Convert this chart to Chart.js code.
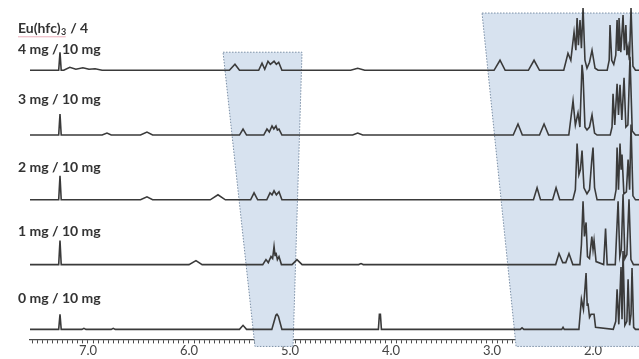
<!DOCTYPE html>
<html><head><meta charset="utf-8">
<script src="https://cdn.jsdelivr.net/npm/chart.js@4"></script>
<style>html,body{margin:0;padding:0;background:#fff;}canvas{display:block;}</style>
</head><body>
<canvas id="c" width="639" height="359"></canvas>
<script>
// ---- data ----
const sampleLabels = ['0 mg / 10 mg','1 mg / 10 mg','2 mg / 10 mg','3 mg / 10 mg','4 mg / 10 mg'];
const titleMain = 'Eu(hfc)';
const titleSub = '3';
const titleRest = ' / 4';
const tickValues = [7, 6, 5, 4, 3, 2];
const tickLabels = ['7.0', '6.0', '5.0', '4.0', '3.0', '2.0'];

// [ppm, intensity] pairs, spectrum 0 mg ... 4 mg
const spec0 = [[7.574,0],[7.29,0],[7.277,15],[7.265,0],[7.06,0],[7.04,1],[7.02,0],[6.77,0],[6.75,1],[6.73,0],
[5.50,0],[5.465,4],[5.43,0],[5.18,0],[5.14,14],[5.129,15],[5.115,13],[5.08,0],
[4.125,0],[4.115,15],[4.105,15],[4.095,0],
[2.72,0],[2.703,1.5],[2.685,0],[2.31,0],[2.297,2],[2.285,0],
[2.14,0],[2.115,30],[2.095,20],[2.069,56],[2.058,24],[2.050,26],[2.035,12],[2.02,15],[1.99,15],[1.975,2],
[1.80,0],[1.775,8],[1.762,40],[1.745,5],[1.723,62],[1.713,10],[1.703,78],[1.685,4],[1.665,8],[1.653,50],[1.638,4],[1.624,15],[1.614,61],[1.598,2],[1.58,0],[1.545,0]];
const spec1 = [[7.574,0],[7.29,0],[7.277,24],[7.265,0],
[6.00,0],[5.931,4],[5.87,0],
[5.27,0],[5.238,5],[5.215,2],[5.188,8],[5.172,6],[5.158,18],[5.148,9],[5.139,12],[5.125,5],[5.109,8],[5.085,0],
[4.98,0],[4.931,5],[4.88,0],[4.32,0],[4.297,1],[4.275,0],
[2.37,0],[2.337,11],[2.30,2],[2.27,2],[2.238,11],[2.20,0],
[2.13,0],[2.115,20],[2.099,63],[2.085,28],[2.069,42],[2.055,8],[2.035,6],[2.012,28],[2.0,15],[1.99,24],[1.97,3],
[1.895,0],[1.876,36],[1.860,0],
[1.78,0],[1.752,63],[1.735,8],[1.72,15],[1.703,70],[1.685,6],[1.665,10],[1.644,65],[1.625,5],[1.60,0],[1.545,0]];
const spec2 = [[7.574,0],[7.29,0],[7.277,24],[7.265,0],
[6.48,0],[6.416,3],[6.36,0],[5.79,0],[5.713,5],[5.64,0],
[5.39,0],[5.356,7],[5.32,0],[5.23,0],[5.198,7],[5.178,5],[5.158,9],[5.135,5],[5.109,8],[5.08,0],
[2.59,0],[2.554,12],[2.52,0],[2.40,0],[2.366,12],[2.33,0],
[2.20,0],[2.175,10],[2.158,56],[2.14,25],[2.125,30],[2.109,49],[2.09,12],[2.06,6],[2.035,10],[2.012,40],[2.0,52],[1.985,12],[1.96,0],
[1.79,0],[1.772,10],[1.762,52],[1.748,10],[1.733,56],[1.722,30],[1.713,45],[1.695,6],[1.67,8],[1.653,40],[1.638,10],[1.624,75],[1.605,4],[1.58,0],[1.545,0]];
const spec3 = [[7.574,0],[7.29,0],[7.277,21],[7.265,0],
[6.86,0],[6.812,2],[6.77,0],[6.48,0],[6.416,3],[6.36,0],
[5.50,0],[5.465,6],[5.43,0],
[5.26,0],[5.228,6],[5.205,3],[5.178,9],[5.16,6],[5.139,9],[5.125,5],[5.109,6],[5.08,0],
[4.38,0],[4.33,2],[4.28,0],
[2.79,0],[2.743,11],[2.70,0],[2.53,0],[2.485,11],[2.44,0],
[2.24,0],[2.198,34],[2.175,10],[2.149,22],[2.13,8],[2.109,70],[2.099,60],[2.08,8],[2.06,5],[2.035,8],[2.010,20],[1.985,2],[1.96,0],
[1.83,0],[1.812,8],[1.802,41],[1.785,10],[1.762,51],[1.748,20],[1.733,50],[1.715,15],[1.693,57],[1.675,8],[1.655,10],[1.634,78],[1.612,4],[1.58,0],[1.545,0]];
const spec4 = [[7.574,0],[7.29,0],[7.277,18],[7.265,0],[7.24,0],[7.18,3],[7.12,1],[7.05,2.5],[6.99,1],[6.93,1.5],[6.86,0],
[5.60,0],[5.545,6],[5.50,0],
[5.31,0],[5.277,7],[5.25,1],[5.218,9],[5.195,6],[5.158,9],[5.135,6],[5.112,8],[5.08,0],
[4.40,0],[4.33,2],[4.26,0],
[2.98,0],[2.921,10],[2.87,0],[2.64,0],[2.584,10],[2.53,0],
[2.29,0],[2.248,17],[2.22,10],[2.188,38],[2.17,20],[2.158,52],[2.145,25],[2.129,50],[2.115,22],[2.099,62],[2.08,10],[2.06,2],[2.035,8],[2.010,20],[1.98,2],[1.95,0],
[1.86,0],[1.84,10],[1.832,45],[1.815,10],[1.795,6],[1.775,15],[1.762,50],[1.752,20],[1.743,52],[1.725,18],[1.703,55],[1.69,20],[1.675,45],[1.665,15],[1.653,23],[1.64,10],[1.624,62],[1.605,4],[1.58,0],[1.545,0]];
const spectra = [spec0, spec1, spec2, spec3, spec4];

// ---- chart ----
const STACK = 64.5;
const datasets = spectra.map((s, i) => ({
  label: sampleLabels[i],
  data: s.map(p => ({ x: p[0], y: p[1] + i * STACK })),
  borderColor: '#3a3a3a',
  borderWidth: 1.6,
  pointRadius: 0,
  tension: 0,
  fill: false,
  clip: 8
}));

const FONT = 'Lato';
const boxesPlugin = {
  id: 'boxes',
  beforeDatasetsDraw(chart) {
    const { ctx, scales: { x, y } } = chart;
    const shapes = [
      [[5.663, 276], [4.881, 276], [4.970, -17], [5.347, -17]],
      [[3.099, 315], [1.30, 315], [1.30, -17], [2.762, -17]]
    ];
    ctx.save();
    shapes.forEach(pts => {
      ctx.beginPath();
      pts.forEach((p, k) => {
        const px = x.getPixelForValue(p[0]), py = y.getPixelForValue(p[1]);
        if (k === 0) ctx.moveTo(px, py); else ctx.lineTo(px, py);
      });
      ctx.closePath();
      ctx.fillStyle = '#d7e2ef';
      ctx.fill();
      ctx.setLineDash([1.5, 1.5]);
      ctx.strokeStyle = '#7a8ea5';
      ctx.lineWidth = 1;
      ctx.stroke();
    });
    ctx.restore();
  },
  afterDraw(chart) {
    const { ctx, scales: { y } } = chart;
    const lift = [31, 33, 32, 36, 21];
    ctx.save();
    ctx.fillStyle = '#333';
    ctx.textBaseline = 'middle';
    ctx.font = 'bold 14px ' + FONT;
    sampleLabels.forEach((t, i) => {
      ctx.fillText(t, 18, y.getPixelForValue(i * STACK) - lift[i]);
    });
    // title with subscript
    const ty = y.getPixelForValue(4 * STACK) - 42;
    ctx.fillText(titleMain, 18, ty);
    const w1 = ctx.measureText(titleMain).width;
    ctx.font = 'bold 9px ' + FONT;
    ctx.fillText(titleSub, 18 + w1 + 0.5, ty + 4);
    const w2 = ctx.measureText(titleSub).width;
    ctx.font = 'bold 14px ' + FONT;
    ctx.fillText(titleRest, 18 + w1 + w2 + 1, ty);
    // spell-check style underline
    ctx.strokeStyle = 'rgba(220,120,140,0.6)';
    ctx.lineWidth = 1;
    ctx.beginPath();
    ctx.moveTo(18, ty + 8.5); ctx.lineTo(18 + w1 + w2, ty + 8.5);
    ctx.stroke();
    ctx.restore();
  }
};

new Chart(document.getElementById('c'), {
  type: 'line',
  data: { datasets },
  options: {
    responsive: false,
    animation: false,
    devicePixelRatio: 1,
    layout: { padding: { left: 30, right: 0, top: 0, bottom: 0 } },
    plugins: { legend: { display: false }, tooltip: { enabled: false } },
    scales: {
      x: {
        type: 'linear',
        reverse: true,
        min: 1.545,
        max: 7.574,
        border: { display: true, color: '#4a4a4a', width: 1.2 },
        grid: { display: true, drawOnChartArea: false, drawTicks: true, tickLength: 4, color: '#4a4a4a' },
        ticks: {
          stepSize: 0.05,
          autoSkip: false,
          maxRotation: 0,
          includeBounds: false,
          padding: 0,
          color: '#444',
          font: { family: FONT, size: 13 },
          callback: (v) => {
            const i = tickValues.findIndex(t => Math.abs(t - v) < 1e-6);
            return i >= 0 ? tickLabels[i] : '';
          }
        }
      },
      y: { type: 'linear', display: false, min: -10, max: 328 }
    }
  },
  plugins: [boxesPlugin]
});
</script>
</body></html>
